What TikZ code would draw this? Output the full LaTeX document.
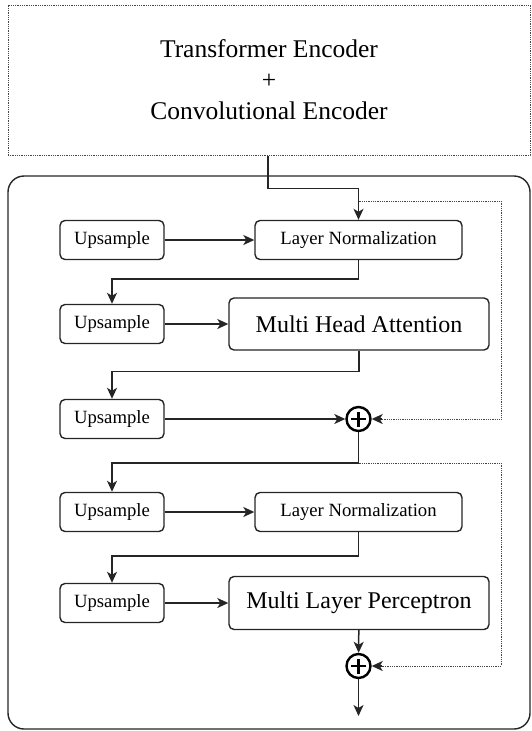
\documentclass[tikz,border=0pt]{standalone}
\usepackage{fontspec}
\setmainfont{Liberation Serif}
\usetikzlibrary{arrows.meta,calc}
\definecolor{ln}{HTML}{252525}
\tikzset{
  box/.style={draw=ln, line width=1.4pt, rounded corners=5pt, inner sep=0pt, font=\fontsize{18.7}{21}\selectfont},
  upbox/.style={box, minimum width=104pt, minimum height=39pt},
  lnbox/.style={box, minimum width=207pt, minimum height=39pt},
  bigbox/.style={box, minimum width=260pt, minimum height=52pt, font=\fontsize{24}{27}\selectfont},
  arr/.style={draw=ln, line width=1.5pt, -{Stealth[length=11pt,width=10pt,inset=3pt]}},
  dotl/.style={draw=ln!85, line width=1pt, dash pattern=on 1pt off 0.8pt},
  plusnode/.style={circle, draw=black, line width=2.4pt, minimum size=24pt, inner sep=0pt,
    path picture={\draw[line width=2.4pt] ($(path picture bounding box.center)+(-7.5pt,0)$) -- ($(path picture bounding box.center)+(7.5pt,0)$)
      ($(path picture bounding box.center)+(0,-7.5pt)$) -- ($(path picture bounding box.center)+(0,7.5pt)$);}},
}
\begin{document}
\begin{tikzpicture}[x=1pt,y=-1pt]
\useasboundingbox (0,0) rectangle (532,731);
% encoder box
\node[dotl, minimum width=522pt, minimum height=150pt, inner sep=0pt, align=center,
  font=\fontsize{25.5}{31}\selectfont] (enc) at (269,80)
  {Transformer Encoder\\+\\Convolutional Encoder};
% outer frame
\node[draw=ln, line width=1.4pt, rounded corners=16pt, minimum width=522pt, minimum height=553pt, inner sep=0pt] (frame) at (269,452.5) {};
% blocks
\node[upbox] (up1) at (112,240) {Upsample};
\node[lnbox] (ln1) at (358.5,240) {Layer Normalization};
\node[upbox] (up2) at (112,324) {Upsample};
\node[bigbox] (mha) at (359,324) {Multi Head Attention};
\node[upbox] (up3) at (112,419) {Upsample};
\node[plusnode] (p1) at (358.5,419) {};
\node[upbox] (up4) at (112,512) {Upsample};
\node[lnbox] (ln2) at (358.5,512) {Layer Normalization};
\node[upbox] (up5) at (112,603) {Upsample};
\node[bigbox, minimum height=53pt] (mlp) at (359,603) {Multi Layer Perceptron};
\node[plusnode] (p2) at (358.5,666) {};
\coordinate (out) at (358.5,716);
\coordinate (s1) at (358.5,201);
\coordinate (r1) at (501,201);
\coordinate (j2) at (358.5,463);
\coordinate (r2) at (501,463);
% connectors
\draw[arr] (enc.south -| 268,0) -- ++(0,33) -| (ln1.north);
\draw[arr] (up1) -- (ln1);
\draw[arr] (ln1.south) -- ++(0,19) -| (up2.north);
\draw[arr] (up2) -- (mha);
\draw[arr] (mha.south) -- ++(0,21) -| (up3.north);
\draw[arr] (up3) -- (p1);
\draw[line width=1.5pt, draw=ln] (p1) -- (j2);
\draw[arr] (j2) -| (up4.north);
\draw[arr] (up4) -- (ln2);
\draw[arr] (ln2.south) -- ++(0,24) -| (up5.north);
\draw[arr] (up5) -- (mlp);
\draw[arr] (mlp) -- (p2);
\draw[arr] (p2) -- (out);
% skip connections
\draw[dotl] (s1) -- (r1) -- (r1 |- p1) -- ($(p1.east)+(10pt,0)$);
\draw[arr] ($(p1.east)+(10pt,0)$) -- (p1.east);
\draw[dotl] (j2) -- (r2) -- (r2 |- p2) -- ($(p2.east)+(10pt,0)$);
\draw[arr] ($(p2.east)+(10pt,0)$) -- (p2.east);
\end{tikzpicture}
\end{document}
